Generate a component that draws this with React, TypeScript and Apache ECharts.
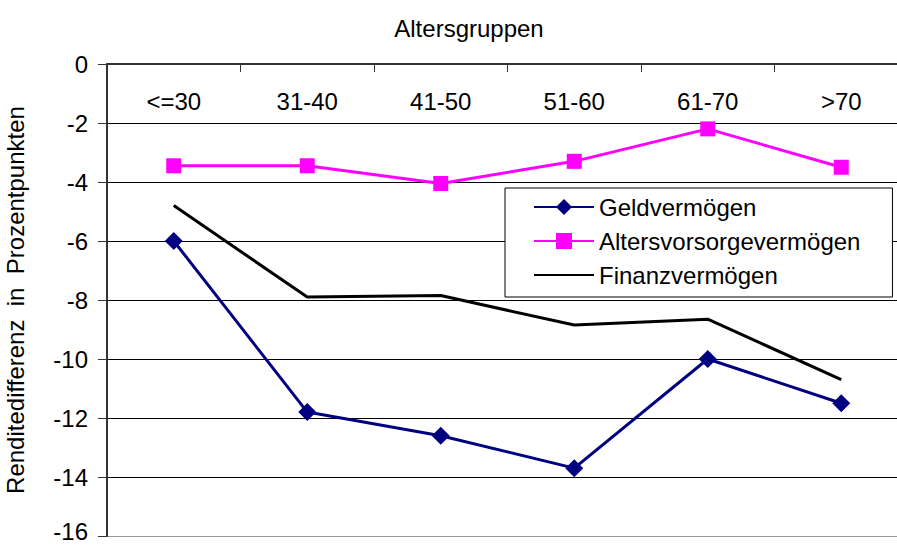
import React, { useEffect, useRef } from "react";
import * as echarts from "echarts";

const categories = ["<=30", "31-40", "41-50", "51-60", "61-70", ">70"];
const geldvermoegen = [-6.0, -11.8, -12.6, -13.7, -10.0, -11.5];
const altersvorsorge = [-3.45, -3.45, -4.05, -3.3, -2.2, -3.5];
const finanzvermoegen = [-4.8, -7.9, -7.85, -8.85, -8.65, -10.7];
const seriesNames = ["Geldvermögen", "Altersvorsorgevermögen", "Finanzvermögen"];
const xTitle = "Altersgruppen";
const yTitle = "Renditedifferenz  in  Prozentpunkten";

const FONT = "Liberation Sans, Arial, sans-serif";

export default function App() {
  const ref = useRef<HTMLDivElement>(null);
  useEffect(() => {
    if (!ref.current) return;
    const chart = echarts.init(ref.current, undefined, { renderer: "svg" });
    const splitColors = ["#999999", "#000", "#000", "#000", "#000", "#000", "#000", "#000", "#000"];
    chart.setOption({
      animation: false,
      backgroundColor: "#fff",
      textStyle: { fontFamily: FONT, color: "#000" },
      graphic: [
        {
          type: "text",
          x: 469,
          y: 28,
          style: {
            text: xTitle,
            fontFamily: FONT,
            fontSize: 24,
            fill: "#000",
            textAlign: "center",
            textVerticalAlign: "middle",
          },
        },
      ],
      grid: {
        left: 107,
        top: 64,
        width: 801,
        height: 472,
        containLabel: false,
        outerBoundsMode: "none",
      },
      legend: {
        left: 505,
        top: 188,
        orient: "vertical",
        data: [
          { name: seriesNames[0] },
          { name: seriesNames[1] },
          { name: seriesNames[2], itemStyle: { opacity: 0 } },
        ],
        backgroundColor: "#fff",
        borderColor: "#000",
        borderWidth: 1,
        borderRadius: 0,
        padding: [7, 32, 10, 28],
        itemWidth: 60,
        itemHeight: 20,
        itemGap: 10,
        textStyle: { fontFamily: FONT, fontSize: 24, color: "#000", lineHeight: 24 },
      },
      xAxis: {
        type: "category",
        position: "top",
        data: categories,
        boundaryGap: true,
        axisLine: { show: true, lineStyle: { color: "#333", width: 2 } },
        axisTick: { show: true, inside: true, length: 8, lineStyle: { color: "#333", width: 1 } },
        axisLabel: {
          inside: true,
          margin: 25,
          fontFamily: FONT,
          fontSize: 24,
          color: "#000",
        },
        splitLine: { show: false },
      },
      yAxis: {
        type: "value",
        min: -16,
        max: 0,
        interval: 2,
        name: yTitle,
        nameLocation: "middle",
        nameGap: 80,
        nameTextStyle: { fontFamily: FONT, fontSize: 24, color: "#000" },
        axisLine: { show: true, lineStyle: { color: "#333", width: 2 } },
        axisTick: { show: true, length: 9, lineStyle: { color: "#333", width: 1 } },
        axisLabel: {
          margin: 19,
          fontFamily: FONT,
          fontSize: 24,
          lineHeight: 18,
          color: "#000",
          formatter: (v: number) => (v === -16 ? "{m|" + v + "}\n{s| }" : String(v)),
          rich: {
            m: { fontFamily: FONT, fontSize: 24, lineHeight: 18, color: "#000" },
            s: { fontFamily: FONT, fontSize: 8, lineHeight: 10, color: "#000" },
          },
        },
        splitLine: { show: true, lineStyle: { color: splitColors, width: 1 } },
      },
      series: [
        {
          name: seriesNames[0],
          type: "line",
          data: geldvermoegen,
          color: "#000080",
          lineStyle: { color: "#000080", width: 3 },
          itemStyle: { color: "#000080" },
          symbol: "diamond",
          symbolSize: 18,
          z: 3,
        },
        {
          name: seriesNames[1],
          type: "line",
          data: altersvorsorge,
          color: "#FF00FF",
          lineStyle: { color: "#FF00FF", width: 3 },
          itemStyle: { color: "#FF00FF" },
          symbol: "rect",
          symbolSize: 15,
          z: 3,
        },
        {
          name: seriesNames[2],
          type: "line",
          data: finanzvermoegen,
          color: "#000",
          lineStyle: { color: "#000", width: 3 },
          itemStyle: { color: "#000" },
          symbol: "none",
          z: 2,
        },
      ],
    });
    return () => chart.dispose();
  }, []);
  return (
    <div
      ref={ref}
      style={{ position: "fixed", left: 0, top: 0, width: 897, height: 546, background: "#fff" }}
    />
  );
}
